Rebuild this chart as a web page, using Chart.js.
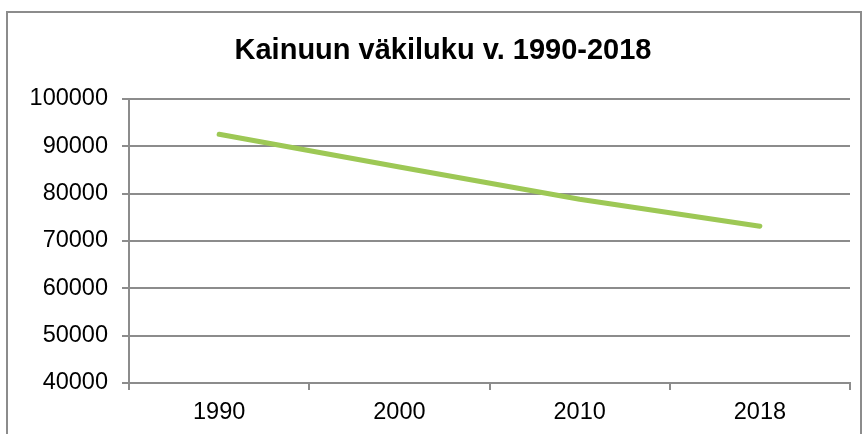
<!DOCTYPE html>
<html>
<head>
<meta charset="utf-8">
<script src="https://cdn.jsdelivr.net/npm/chart.js@4"></script>
<style>
  html, body { margin: 0; padding: 0; background: #fff; }
  #wrap { width: 868px; height: 434px; }
</style>
</head>
<body>
<div id="wrap"><canvas id="line-chart" width="868" height="434"></canvas></div>
<script>
const years = ['1990', '2000', '2010', '2018'];
const population = [92500, 85600, 78800, 73100];
const yTicks = [40000, 50000, 60000, 70000, 80000, 90000, 100000];

const gray = '#8c8c8c';

const frame = {
  id: 'frame',
  afterLayout(chart) {
    // title in the reference sits a bit right of the canvas centre
    if (chart.titleBlock) chart.titleBlock.left += 18;
  },
  beforeDraw(chart) {
    const ctx = chart.ctx;
    ctx.save();
    ctx.fillStyle = '#fff';
    ctx.fillRect(0, 0, chart.width, chart.height);
    ctx.strokeStyle = gray;
    ctx.lineWidth = 2;
    ctx.strokeRect(7, 12, 854, 440);
    ctx.restore();
  }
};

new Chart(document.getElementById('line-chart'), {
  type: 'line',
  data: {
    labels: years,
    datasets: [{
      label: 'Väkiluku',
      data: population,
      borderColor: '#9dc855',
      borderWidth: 5,
      borderCapStyle: 'round',
      borderJoinStyle: 'round',
      pointRadius: 0,
      tension: 0,
      fill: false
    }]
  },
  options: {
    responsive: false,
    animation: false,
    layout: { padding: { left: 18, right: 18, top: 0, bottom: 0 } },
    plugins: {
      legend: { display: false },
      tooltip: { enabled: false },
      title: {
        display: true,
        text: 'Kainuun väkiluku v. 1990-2018',
        color: '#000',
        font: { family: 'Liberation Sans', size: 29, weight: 'bold' },
        padding: { top: 34, bottom: 30 }
      }
    },
    scales: {
      x: {
        offset: true,
        grid: { offset: true, drawOnChartArea: false, drawTicks: true, tickLength: 7, color: gray, lineWidth: 2 },
        border: { display: true, color: gray, width: 2 },
        ticks: { color: '#000', padding: 8, font: { family: 'Liberation Sans', size: 23.5 } },
        afterFit(scale) { scale.height = 51; }
      },
      y: {
        min: 40000,
        max: 100000,
        afterBuildTicks(scale) { scale.ticks = yTicks.map(v => ({ value: v })); },
        grid: { color: gray, lineWidth: 2, tickLength: 7 },
        border: { display: true, color: gray, width: 2 },
        ticks: {
          color: '#000',
          padding: 14,
          font: { family: 'Liberation Sans', size: 23.5 },
          callback: v => String(v)
        },
        afterFit(scale) { scale.width = 111; }
      }
    }
  },
  plugins: [frame]
});
</script>
</body>
</html>
